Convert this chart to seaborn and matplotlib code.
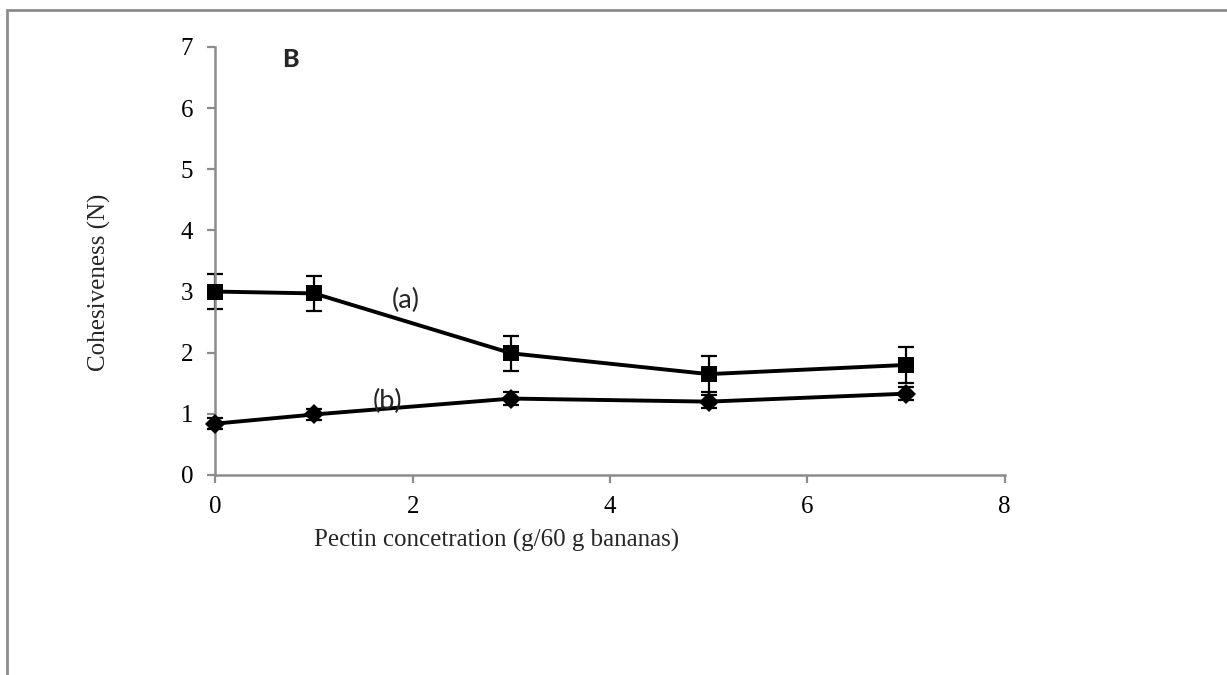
import matplotlib
matplotlib.use("Agg")
import matplotlib.pyplot as plt
import seaborn as sns
import pandas as pd
from matplotlib.patches import Rectangle

# Pectin concentration (g / 60 g bananas)
pectin = [0, 1, 3, 5, 7]
# Cohesiveness, series (a) and (b), with standard deviations
cohesion_a = [3.00, 2.97, 1.99, 1.65, 1.80]
sd_a = [0.29, 0.29, 0.29, 0.29, 0.30]
cohesion_b = [0.84, 0.99, 1.25, 1.20, 1.33]
sd_b = [0.09, 0.09, 0.10, 0.11, 0.11]

x_ticks = [0, 2, 4, 6, 8]
y_ticks = [0, 1, 2, 3, 4, 5, 6, 7]

sns.set_theme(style="white")
plt.rcParams["font.family"] = ["Liberation Serif", "DejaVu Serif"]

df = pd.DataFrame({
    "pectin": pectin * 2,
    "value": cohesion_a + cohesion_b,
    "series": ["(a)"] * len(pectin) + ["(b)"] * len(pectin),
})

fig = plt.figure(figsize=(12.27, 6.75), dpi=100)
ax = fig.add_axes([0.1756, 0.2963, 0.8188 - 0.1756, 0.9304 - 0.2963])

# error bars first so markers sit on top
for vals, err in ((cohesion_a, sd_a), (cohesion_b, sd_b)):
    eb = ax.errorbar(pectin, vals, yerr=err, fmt="none", ecolor="black",
                     elinewidth=1.6, capsize=6, capthick=1.6, zorder=2)
    for art in eb.lines[1]:
        art.set_clip_on(False)
    for art in eb.lines[2]:
        art.set_clip_on(False)

sns.lineplot(data=df, x="pectin", y="value", hue="series", style="series",
             markers={"(a)": "s", "(b)": "D"}, dashes=False,
             palette={"(a)": "black", "(b)": "black"},
             linewidth=2.8, markersize=12, markeredgewidth=0,
             legend=False, ax=ax, zorder=3)
for line in ax.get_lines():
    line.set_clip_on(False)
    # diamonds slightly smaller than squares
    if line.get_marker() == "D":
        line.set_markersize(10)

ax.set_xlim(0, 8)
ax.set_ylim(0, 7)
ax.set_xticks(x_ticks)
ax.set_yticks(y_ticks)
ax.set_xticklabels([str(t) for t in x_ticks])
ax.set_yticklabels([str(t) for t in y_ticks])

for side in ("top", "right"):
    ax.spines[side].set_visible(False)
for side in ("left", "bottom"):
    ax.spines[side].set_color("#8c8c8c")
    ax.spines[side].set_linewidth(1.8)

ax.tick_params(axis="both", which="major", direction="out", length=6,
               width=1.6, color="#8c8c8c", labelsize=18, labelcolor="black",
               pad=10)
ax.tick_params(axis="x", pad=9)
ax.tick_params(left=True, bottom=True)

ax.set_xlabel("")
ax.set_ylabel("")
fig.text(497 / 1227, 1 - 540 / 675, "Pectin concetration (g/60 g bananas)",
         ha="center", va="center", fontsize=18)
fig.text(99 / 1227, 1 - 282 / 675, "Cohesiveness (N)", rotation=90,
         ha="center", va="center", fontsize=18)

sans = ["Lato", "DejaVu Sans"]
ax.text(0.76, 6.79, "B", family=sans, fontweight="black", fontsize=18,
        ha="center", va="center")
ax.text(1.93, 2.86, "(a)", family=sans, fontsize=19.5, ha="center", va="center")
ax.text(1.74, 1.21, "(b)", family=sans, fontsize=19.5, ha="center", va="center")

# chart area frame
fig.add_artist(Rectangle((7 / 1227, -0.1), 1.2, 1 - 10 / 675 + 0.1,
                         transform=fig.transFigure, fill=False,
                         edgecolor="#8c8c8c", linewidth=2.0))

fig.savefig("out.png", dpi=100)
